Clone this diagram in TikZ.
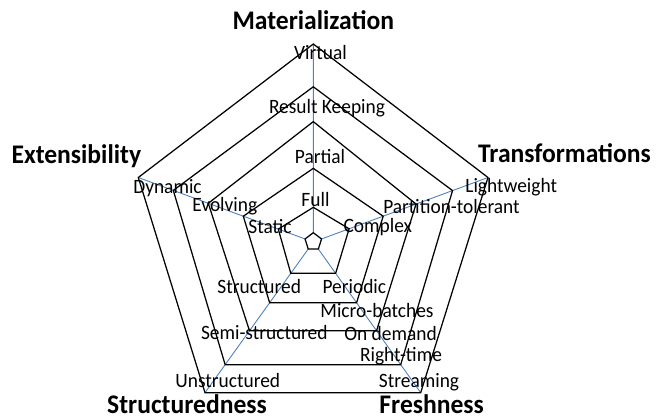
\documentclass[tikz,border=0pt]{standalone}
\usepackage{fontspec}
\usepackage{graphicx}
\setmainfont{Carlito}
\usetikzlibrary{calc}
\definecolor{axisblue}{RGB}{79,129,189}
\tikzset{
  ringline/.style={draw=black, line width=1.25pt, line join=miter},
  axisline/.style={draw=axisblue, line width=0.9pt},
  lbl/.style={anchor=base, inner sep=0pt, font=\fontsize{19.4}{22}\selectfont},
  dimtitle/.style={anchor=base, inner sep=0pt, font=\fontsize{25.6}{30}\bfseries\selectfont},
}
% slightly taller lettering
\newcommand\tallText[1]{\scalebox{1}[1.05]{#1}}
% one closed ring: fractions along the five axes (top, right, bottom-right, bottom-left, left)
\newcommand\pentring[5]{%
  \draw[ringline] ($(C)!#1!(aT)$) -- ($(C)!#2!(aR)$) -- ($(C)!#3!(aBR)$)
    -- ($(C)!#4!(aBL)$) -- ($(C)!#5!(aL)$) -- cycle;}
\begin{document}
\begin{tikzpicture}[x=1pt,y=-1pt]
\useasboundingbox (0,0) rectangle (665,420);

% centre and outer ends of the five axes
\coordinate (C)   at (313.3,242);
\coordinate (aT)  at (313.3,44);
\coordinate (aR)  at (488,177.5);
\coordinate (aBR) at (420.7,392.7);
\coordinate (aBL) at (205,392.7);
\coordinate (aL)  at (138.3,177.5);

% inner ends of the axes (corners of the smallest ring)
\coordinate (sT)  at ($(C)!0.047!(aT)$);
\coordinate (sR)  at ($(C)!0.047!(aR)$);
\coordinate (sBR) at ($(C)!0.047!(aBR)$);
\coordinate (sBL) at ($(C)!0.047!(aBL)$);
\coordinate (sL)  at ($(C)!0.047!(aL)$);

% axes
\draw[axisline] (sT) -- (aT);
\draw[axisline] (sR) -- (aR);
\draw[axisline] (sBR) -- (aBR);
\draw[axisline] (sBL) -- (aBL);
\draw[axisline] (sL) -- (aL);

% rings
\draw[ringline] (sT) -- (sR) -- (sBR) -- (sBL) -- (sL) -- cycle;
\pentring{0.175}{0.205}{0.208}{0.208}{0.2}
\pentring{0.372}{0.4}{0.403}{0.403}{0.4}
\pentring{0.608}{0.588}{0.589}{0.589}{0.6}
\pentring{0.784}{0.797}{0.814}{0.814}{0.8}
\pentring{1}{1}{1}{1}{1}

% dimension titles
\node[dimtitle] (tMat) at (313.3,30)  {\tallText{Materialization}};
\node[dimtitle] (tExt) at (76.3,163.3) {\tallText{Extensibility}};
\node[dimtitle] (tTra) at (564.5,162.3) {\tallText{Transformations}};
\node[dimtitle] (tStr) at (187,413.5)   {\tallText{Structuredness}};
\node[dimtitle] (tFre) at (431.7,413.5) {\tallText{Freshness}};

% materialization levels
\node[lbl] (mVir) at (320.5,60)    {\tallText{Virtual}};
\node[lbl] (mRes) at (327,113.3)   {\tallText{Result Keeping}};
\node[lbl] (mPar) at (320,164)     {\tallText{Partial}};
\node[lbl] (mFul) at (315.5,206.7) {\tallText{Full}};

% extensibility levels
\node[lbl] (eDyn) at (167.5,193.3) {\tallText{Dynamic}};
\node[lbl] (eEvo) at (224.8,211.7) {\tallText{Evolving}};
\node[lbl] (eSta) at (270,233.3)   {\tallText{Static}};

% transformation levels
\node[lbl] (xLig) at (511.2,192.3) {\tallText{Lightweight}};
\node[lbl] (xPar) at (451.5,213.3) {\tallText{Partition-tolerant}};
\node[lbl] (xCom) at (377.8,232.7) {\tallText{Complex}};

% structuredness levels
\node[lbl] (sStr) at (259.2,293.3) {\tallText{Structured}};
\node[lbl] (sSem) at (264.3,339.3) {\tallText{Semi-structured}};
\node[lbl] (sUns) at (227.8,387.3) {\tallText{Unstructured}};

% freshness levels
\node[lbl] (fPer) at (354.3,293.3) {\tallText{Periodic}};
\node[lbl] (fMic) at (377,317.3)   {\tallText{Micro-batches}};
\node[lbl] (fOnd) at (390.5,340)   {\tallText{On demand}};
\node[lbl] (fRig) at (401,361.7)   {\tallText{Right-time}};
\node[lbl] (fStr) at (419,387.3)   {\tallText{Streaming}};
\end{tikzpicture}
\end{document}
